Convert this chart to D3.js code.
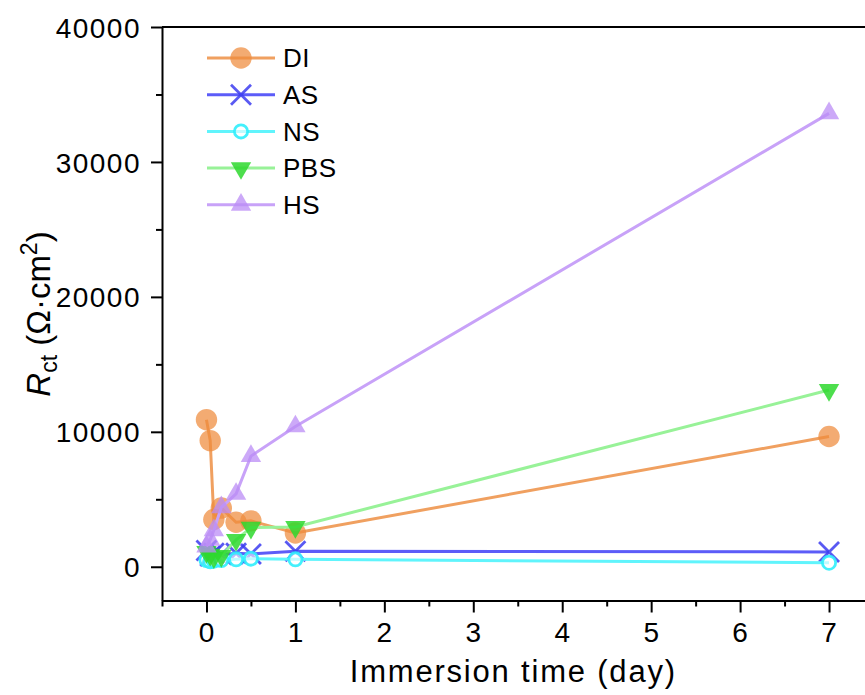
<!DOCTYPE html>
<html>
<head>
<meta charset="utf-8">
<script src="https://cdn.jsdelivr.net/npm/d3@7"></script>
<style>
  body { margin: 0; background: #fff; }
  svg { font-family: "Liberation Sans", Arial, sans-serif; }
</style>
</head>
<body>
<div id="chart"></div>
<script>
// immersion times in days (0, 1h, 2h, 4h, 8h, 12h, 1d, 7d)
const times = [0, 0.042, 0.083, 0.167, 0.333, 0.5, 1, 7];

const seriesNames = ["DI", "AS", "NS", "PBS", "HS"];
const diValues = [10900, 9350, 3500, 4350, 3300, 3400, 2500, 9650];
const asValues = [1200, 800, 1000, 900, 1000, 950, 1150, 1100];
const nsValues = [500, 400, 450, 500, 550, 600, 550, 300];
const pbsValues = [1100, 900, 700, 800, 2000, 2900, 2950, 13100];
const hsValues = [1500, 2000, 2700, 4400, 5400, 8200, 10400, 33600];

const xTicks = [0, 1, 2, 3, 4, 5, 6, 7];
const yTicks = [0, 10000, 20000, 30000, 40000];

document.addEventListener("DOMContentLoaded", function () {
  const margin = { top: 27, left: 162 };
  const width = 711.5;
  const height = 573.5;

  const svg = d3
    .select("#chart")
    .append("svg")
    .attr("width", 865)
    .attr("height", 695);

  const g = svg
    .append("g")
    .attr("transform", `translate(${margin.left}, ${margin.top})`);

  const xScale = d3.scaleLinear().domain([-0.5, 7.5]).range([0, width]);
  const yScale = d3.scaleLinear().domain([-2500, 40000]).range([height, 0]);

  const styles = {
    DI: { line: "#f0a060", fill: "#ee8a3c", marker: "circle" },
    AS: { line: "#5c5cf8", fill: "#3c3cf0", marker: "cross" },
    NS: { line: "#60f4fc", fill: "#30eefc", marker: "open" },
    PBS: { line: "#98f298", fill: "#2ed82e", marker: "down" },
    HS: { line: "#c8a2f8", fill: "#bb8cf6", marker: "up" },
  };
  const valuesByName = {
    DI: diValues,
    AS: asValues,
    NS: nsValues,
    PBS: pbsValues,
    HS: hsValues,
  };

  // minor ticks
  const xMinor = d3.range(-0.5, 7.51, 0.5).filter((v) => v % 1 !== 0);
  const yMinor = [5000, 15000, 25000, 35000];

  g.append("g")
    .attr("transform", `translate(0, ${height})`)
    .call(d3.axisBottom(xScale).tickValues(xMinor).tickSize(6).tickFormat(""))
    .call((a) => a.select(".domain").remove());
  g.append("g")
    .call(d3.axisLeft(yScale).tickValues(yMinor).tickSize(6).tickFormat(""))
    .call((a) => a.select(".domain").remove());

  const xAxis = g
    .append("g")
    .attr("transform", `translate(0, ${height})`)
    .call(
      d3.axisBottom(xScale).tickValues(xTicks).tickSize(12).tickSizeOuter(0).tickPadding(10)
    );
  const yAxis = g
    .append("g")
    .call(
      d3.axisLeft(yScale).tickValues(yTicks).tickSize(11).tickSizeOuter(0).tickPadding(10)
        .tickFormat(d3.format("d"))
    );

  g.selectAll(".tick line").attr("stroke", "#000").attr("stroke-width", 2);
  g.selectAll(".domain").attr("stroke", "#000").attr("stroke-width", 2);
  xAxis.selectAll("text").attr("font-size", 28).attr("fill", "#000").attr("letter-spacing", 1);
  yAxis.selectAll("text").attr("font-size", 28).attr("fill", "#000").attr("letter-spacing", 1.5)
    .attr("dy", "0.36em");

  // top and right frame
  g.append("line")
    .attr("x1", 0).attr("x2", width).attr("y1", 0).attr("y2", 0)
    .attr("stroke", "#000").attr("stroke-width", 2);
  g.append("line")
    .attr("x1", width).attr("x2", width).attr("y1", 0).attr("y2", height)
    .attr("stroke", "#000").attr("stroke-width", 2);

  // axis titles
  svg.append("text")
    .attr("x", margin.left + xScale(3.45))
    .attr("y", 682)
    .attr("text-anchor", "middle")
    .attr("font-size", 31)
    .attr("letter-spacing", 1.8)
    .text("Immersion time (day)");

  const yTitle = svg.append("text")
    .attr("transform", "translate(50, 314) rotate(-90)")
    .attr("text-anchor", "middle")
    .attr("font-size", 33);
  yTitle.append("tspan").attr("font-style", "italic").text("R");
  yTitle.append("tspan").attr("font-size", 23).attr("dy", 7).text("ct");
  yTitle.append("tspan").attr("dy", -7).text(" (Ω·cm");
  yTitle.append("tspan").attr("font-size", 23).attr("dy", -13).text("2");
  yTitle.append("tspan").attr("dy", 13).text(")");

  function drawMarker(sel, type, s) {
    if (type === "circle") {
      sel.append("circle").attr("r", 10.7).attr("fill", s.fill).attr("fill-opacity", 0.72);
    } else if (type === "cross") {
      sel.append("path").attr("d", "M-10,-10L10,10M-10,10L10,-10")
        .attr("stroke", s.fill).attr("stroke-width", 2.8).attr("fill", "none")
        .attr("stroke-opacity", 0.85);
    } else if (type === "open") {
      sel.append("circle").attr("r", 6.6).attr("fill", "#fff").attr("fill-opacity", 0.6)
        .attr("stroke", s.fill).attr("stroke-width", 2.8).attr("stroke-opacity", 0.9);
    } else if (type === "down") {
      sel.append("path").attr("d", d3.symbol(d3.symbolTriangle, 180))
        .attr("transform", "rotate(180)")
        .attr("fill", s.fill).attr("fill-opacity", 0.85);
    } else if (type === "up") {
      sel.append("path").attr("d", d3.symbol(d3.symbolTriangle, 180))
        .attr("fill", s.fill).attr("fill-opacity", 0.75);
    }
  }

  const line = d3
    .line()
    .x((d) => xScale(d.t))
    .y((d) => yScale(d.v));

  seriesNames.forEach((name) => {
    const s = styles[name];
    const data = times.map((t, i) => ({ t: t, v: valuesByName[name][i] }));
    const sg = g.append("g").attr("class", "series");
    sg.append("path")
      .datum(data)
      .attr("d", line)
      .attr("fill", "none")
      .attr("stroke", s.line)
      .attr("stroke-width", 3);
    sg.selectAll(".pt")
      .data(data)
      .enter()
      .append("g")
      .attr("class", "pt")
      .attr("transform", (d) => `translate(${xScale(d.t)}, ${yScale(d.v)})`)
      .each(function () {
        drawMarker(d3.select(this), s.marker, s);
      });
  });

  // legend
  const legend = svg.append("g").attr("transform", "translate(207, 58)");
  seriesNames.forEach((name, i) => {
    const s = styles[name];
    const row = legend.append("g").attr("transform", `translate(0, ${i * 36.7})`);
    row.append("line")
      .attr("x1", 0).attr("x2", 68)
      .attr("stroke", s.line).attr("stroke-width", 3);
    drawMarker(row.append("g").attr("transform", "translate(34, 0)"), s.marker, s);
    row.append("text")
      .attr("x", 76)
      .attr("dy", "0.36em")
      .attr("font-size", 26)
      .attr("letter-spacing", 0.5)
      .text(name);
  });
});
</script>
</body>
</html>
